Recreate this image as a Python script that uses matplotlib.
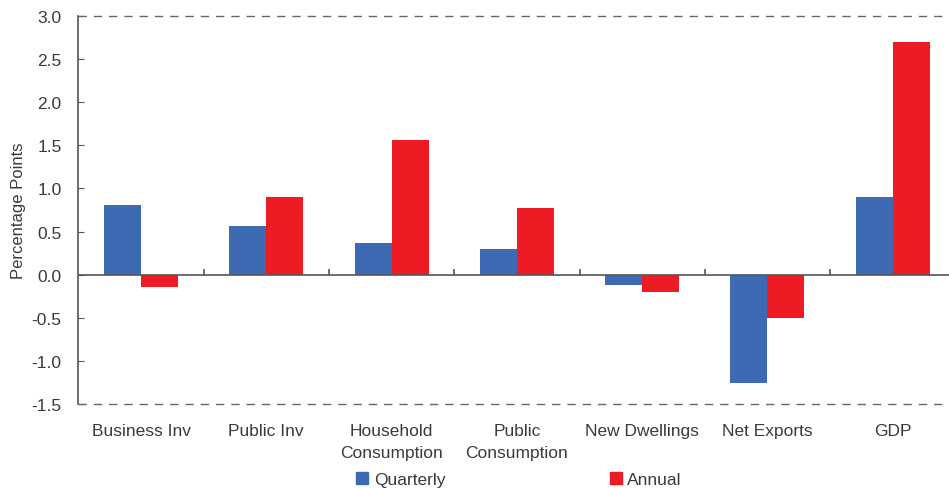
import matplotlib
matplotlib.use("Agg")
import matplotlib.pyplot as plt
from matplotlib.patches import Patch
import numpy as np

plt.rcParams['font.family'] = ['Liberation Sans', 'DejaVu Sans']

categories = ["Business Inv", "Public Inv", "Household\nConsumption", "Public\nConsumption",
              "New Dwellings", "Net Exports", "GDP"]
quarterly = [0.81, 0.57, 0.37, 0.30, -0.12, -1.26, 0.90]
annual = [-0.14, 0.90, 1.56, 0.77, -0.20, -0.50, 2.70]
yticks = [3.0, 2.5, 2.0, 1.5, 1.0, 0.5, 0.0, -0.5, -1.0, -1.5]

blue = "#3D6AB3"
red = "#ED1C24"
axis_col = "#555555"
text_col = "#3a3a3a"

fig = plt.figure(figsize=(9.49, 4.89), dpi=100)
ax = fig.add_axes([0.0826, 0.1718, 0.9241, 0.7934])

x = np.arange(len(categories))
w = 0.295
ax.bar(x - w / 2, quarterly, w, color=blue, label="Quarterly", zorder=3)
ax.bar(x + w / 2, annual, w, color=red, label="Annual", zorder=3)

ax.set_xlim(-0.5, len(categories) - 0.5)
ax.set_ylim(-1.5, 3.0)

# dashed frame lines at top and bottom, solid zero line
ax.axhline(3.0, color="#666666", lw=1, ls=(0, (6, 5)), zorder=2, clip_on=False)
ax.axhline(-1.5, color="#666666", lw=1, ls=(0, (6, 5)), zorder=2, clip_on=False)
ax.axhline(0.0, color=axis_col, lw=1.2, zorder=4)

# small category boundary ticks on the zero line
bounds = np.arange(0.5, len(categories) - 0.5, 1.0)
ax.vlines(bounds, 0, 0.07, color=axis_col, lw=1.2, zorder=4)

for s in ["top", "right", "bottom"]:
    ax.spines[s].set_visible(False)
ax.spines["left"].set_color(axis_col)
ax.spines["left"].set_linewidth(1.2)

ax.set_yticks(yticks)
ax.set_yticklabels([f"{v:.1f}" for v in yticks])
ax.tick_params(axis="y", direction="in", length=4, color=axis_col, labelsize=12.5,
               labelcolor=text_col, pad=12)
ax.set_xticks(x)
ax.set_xticklabels(categories, linespacing=1.55)
ax.tick_params(axis="x", length=0, labelsize=12.5, labelcolor=text_col, pad=14)

ax.set_ylabel("Percentage Points", fontsize=12, color=text_col, labelpad=4)

handles = [Patch(color=blue), Patch(color=red)]
fig.legend(handles, ["Quarterly", "Annual"], loc="center", bbox_to_anchor=(0.547, 0.018),
           ncol=2, frameon=False, fontsize=12.5, handlelength=0.7, handleheight=0.7,
           handletextpad=0.3, columnspacing=9.5, labelcolor=text_col)

fig.savefig("out.png", dpi=100)
